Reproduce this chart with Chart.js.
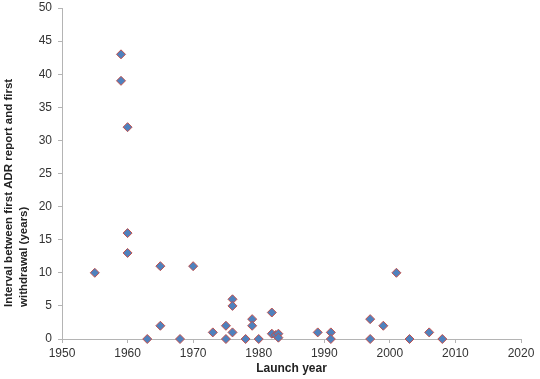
<!DOCTYPE html>
<html>
<head>
<meta charset="utf-8">
<script src="https://cdn.jsdelivr.net/npm/chart.js@4/dist/chart.umd.min.js"></script>
<style>
  html, body { margin: 0; padding: 0; background: #fff; }
  #wrap { width: 540px; height: 379px; position: relative; }
</style>
</head>
<body>
<div id="wrap"><canvas id="adrChart"></canvas></div>
<script>
// Launch year vs years until withdrawal
const launchYears = [1955, 1959, 1959, 1960, 1960, 1960, 1963, 1965, 1965, 1968, 1970,
  1973, 1975, 1975, 1976, 1976, 1976, 1978, 1979, 1979, 1980, 1982, 1982, 1982.6, 1983, 1983,
  1989, 1991, 1991, 1997, 1997, 1999, 2001, 2003, 2006, 2008];
const withdrawalIntervals = [10, 43, 39, 32, 16, 13, 0, 11, 2, 0, 11,
  1, 2, 0, 6, 5, 1, 0, 3, 2, 0, 4, 0.8, 0.6, 0.8, 0.2,
  1, 1, 0, 3, 0, 2, 10, 0, 1, 0];

const xTitle = 'Launch year';
const yTitle = ['Interval between first ADR report and first', 'withdrawal (years)'];

const points = launchYears.map((yr, i) => ({ x: yr, y: withdrawalIntervals[i] }));

const axisGrey = '#B4B4B4';
const fontFam = '"Liberation Sans", Arial, sans-serif';

// y title is start-aligned (both lines begin at the same height), so draw it by hand
const yTitlePlugin = {
  id: 'yTitle',
  afterDraw(chart) {
    const c = chart.ctx;
    c.save();
    c.font = 'bold 11.5px ' + fontFam;
    c.fillStyle = '#222';
    c.textAlign = 'left';
    c.textBaseline = 'middle';
    yTitle.forEach((line, i) => {
      c.save();
      c.translate(9 + i * 15, 307);
      c.rotate(-Math.PI / 2);
      c.fillText(line, 0, 0);
      c.restore();
    });
    c.restore();
  }
};

const ctx = document.getElementById('adrChart').getContext('2d');
new Chart(ctx, {
  type: 'scatter',
  data: {
    datasets: [{
      data: points,
      pointStyle: 'rectRot',
      pointRadius: 4.5,
      pointHoverRadius: 4.5,
      backgroundColor: '#4F81BD',
      borderColor: '#C0504D',
      borderWidth: 1,
      clip: false
    }]
  },
  plugins: [yTitlePlugin],
  options: {
    responsive: true,
    maintainAspectRatio: false,
    animation: false,
    layout: { padding: { top: 8, right: 19, left: 0, bottom: 0 } },
    plugins: {
      legend: { display: false },
      tooltip: { enabled: false }
    },
    scales: {
      x: {
        type: 'linear',
        min: 1950,
        max: 2020,
        afterFit: axis => { axis.height = 40; },
        border: { color: axisGrey, width: 1 },
        grid: { drawOnChartArea: false, drawTicks: true, tickLength: 4, color: axisGrey },
        ticks: {
          stepSize: 10,
          padding: 3,
          color: '#333',
          font: { family: fontFam, size: 12 },
          callback: v => String(v)
        },
        title: {
          display: true,
          text: xTitle,
          color: '#222',
          font: { family: fontFam, size: 12, weight: 'bold' },
          padding: { top: 0, bottom: 3 }
        }
      },
      y: {
        min: 0,
        max: 50,
        afterFit: axis => {
          axis.width = 62;
          axis.paddingTop = 0;
          axis.paddingBottom = 0;
        },
        border: { color: axisGrey, width: 1 },
        grid: { drawOnChartArea: false, drawTicks: true, tickLength: 4, color: axisGrey },
        ticks: {
          stepSize: 5,
          padding: 6,
          color: '#333',
          font: { family: fontFam, size: 12 }
        }
      }
    }
  }
});
</script>
</body>
</html>
